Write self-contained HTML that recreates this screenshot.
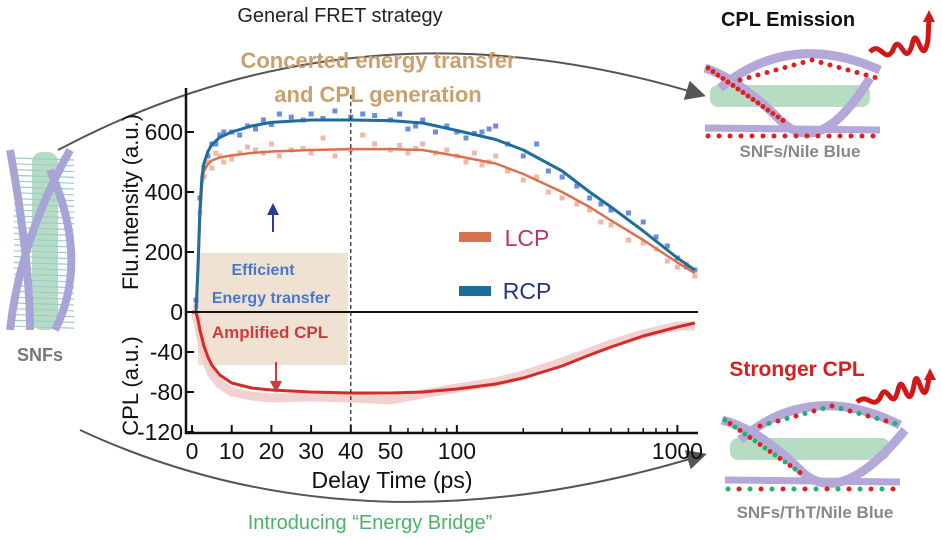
<!DOCTYPE html>
<html><head><meta charset="utf-8"><style>
html,body{margin:0;padding:0;background:#fff;}
body{width:942px;height:540px;overflow:hidden;font-family:"Liberation Sans",sans-serif;}
svg{display:block}
</style></head><body>
<svg id="fig" width="942" height="540" viewBox="0 0 942 540">
<defs>
<marker id="ah" markerWidth="10" markerHeight="10" refX="8" refY="5" orient="auto"><path d="M0,0 L10,5 L0,10 z" fill="#555"/></marker>
<marker id="ahb" markerWidth="6" markerHeight="6" refX="3" refY="3" orient="auto"><path d="M0,0 L6,3 L0,6 z" fill="#2b3d8f"/></marker>
<marker id="ahr" markerWidth="6" markerHeight="6" refX="3" refY="3" orient="auto"><path d="M0,0 L6,3 L0,6 z" fill="#d03a3a"/></marker>
</defs>
<path d="M58,150 Q360,-10 702,95" fill="none" stroke="#555" stroke-width="2" marker-end="url(#ah)"/>
<path d="M80,430 Q360,560 703,455" fill="none" stroke="#555" stroke-width="2" marker-end="url(#ah)"/>
<text x="340" y="22" font-size="20" text-anchor="middle" fill="#222">General FRET strategy</text>
<text x="378" y="68" font-size="22" font-weight="bold" text-anchor="middle" fill="#c9a06f">Concerted energy transfer</text>
<text x="378" y="102" font-size="22" font-weight="bold" text-anchor="middle" fill="#c9a06f">and CPL generation</text>
<text x="370" y="529" font-size="20" text-anchor="middle" fill="#4cb26a">Introducing “Energy Bridge”</text>

<g>
<rect x="32" y="152" width="26" height="178" rx="10" fill="#b7dcc4"/>
<g id="rungsL" stroke="#9cc" stroke-width="1.2"></g>
<path d="M10,150 Q30,260 30,330" stroke="#a9a4d6" stroke-width="8" fill="none"/>
<path d="M70,150 Q20,240 10,330" stroke="#a9a4d6" stroke-width="8" fill="none"/>
<path d="M50,170 Q90,260 55,330" stroke="#a9a4d6" stroke-width="8" fill="none"/>
<text x="40" y="361" font-size="18" font-weight="bold" fill="#777" text-anchor="middle">SNFs</text>
</g>

<g>
<text x="788" y="26" font-size="20" font-weight="bold" fill="#111" text-anchor="middle">CPL Emission</text>
<path d="M870,52 C880,40 885,65 893,50 C900,30 905,70 912,45 C917,20 922,72 928,40 L929,18" stroke="#d01818" stroke-width="5" fill="none"/>
<path d="M923,22 L929,10 L935,22z" fill="#d01818"/>
<rect x="710" y="85" width="160" height="22" rx="8" fill="#b7dcc4"/>
<path d="M705,68 Q740,80 780,120 T870,78" stroke="#b4a8d8" stroke-width="9" fill="none"/>
<path d="M720,88 Q790,30 880,70" stroke="#b4a8d8" stroke-width="9" fill="none"/>
<path d="M705,128 L880,130" stroke="#b4a8d8" stroke-width="7" fill="none"/>
<g id="dotsTop" fill="#e02020"></g>
<text x="800" y="157" font-size="17" font-weight="bold" fill="#888" text-anchor="middle">SNFs/Nile Blue</text>
</g>

<g>
<text x="797" y="376" font-size="21" font-weight="bold" fill="#d42020" text-anchor="middle">Stronger CPL</text>
<path d="M857,402 C868,392 872,410 880,398 C887,378 892,415 898,390 C903,368 908,418 914,385 C918,360 923,418 929,378 L930,378" stroke="#d01818" stroke-width="5" fill="none"/>
<path d="M924,380 L930,368 L936,380z" fill="#d01818"/>
<rect x="730" y="438" width="160" height="22" rx="8" fill="#b7dcc4"/>
<path d="M722,420 Q760,430 800,470 T905,430" stroke="#b4a8d8" stroke-width="9" fill="none"/>
<path d="M740,440 Q810,380 900,425" stroke="#b4a8d8" stroke-width="9" fill="none"/>
<path d="M725,480 L900,482" stroke="#b4a8d8" stroke-width="7" fill="none"/>
<g id="dotsBot"></g>
<text x="815" y="518" font-size="17" font-weight="bold" fill="#888" text-anchor="middle">SNFs/ThT/Nile Blue</text>
</g>

<g id="chart"></g>
</svg>
<script>
var xTickValues=[0,10,20,30,40,50,100,1000];
var xMinorValues=[60,70,80,90,200,300,400,500,600,700,800,900];
var yTopTicks=[0,200,400,600];
var yBotTicks=[-40,-80,-120];
var fitTimes=[0,1,1.5,2,2.5,3,4,5,7,10,15,20,30,40,50,70,100,150,200,300,400,500,700,1000,1200];
var rcpFit=[0,0,150,340,450,495,535,558,582,600,620,632,640,640,638,630,605,575,540,470,400,350,270,180,140];
var lcpFit=[0,0,130,300,420,470,492,505,515,522,530,535,540,543,543,540,520,495,460,400,350,305,240,165,130];
var cplFit=[0,0,-8,-18,-26,-34,-45,-53,-63,-71,-76,-78,-80,-81,-81,-80,-77,-72,-66,-54,-43,-35,-24,-15,-11];
var cplRaw=[-5,-4,-10,-20,-30,-40,-52,-62,-72,-80,-84,-86,-85,-86,-88,-82,-76,-70,-63,-50,-40,-32,-22,-14,-14];
var scatT=[1,2,3,4,5,6,7,8,10,12,14,16,18,20,22,25,28,30,33,36,40,43,46,50,55,60,65,70,80,90,100,110,120,130,140,150,170,200,230,260,300,350,400,450,500,600,700,800,900,1000,1100,1200];
var rcpPts=[40,380,480,520,560,560,590,600,600,590,620,610,640,625,660,650,640,660,645,670,650,660,655,640,660,610,620,640,600,620,600,580,595,600,610,620,560,520,560,470,450,420,380,360,340,330,300,250,220,180,150,140];
var lcpPts=[20,330,450,500,480,530,520,500,510,530,550,540,530,560,520,540,545,530,580,520,540,590,560,540,555,530,545,560,530,540,520,500,530,490,500,520,470,440,450,400,380,360,340,300,290,240,230,210,170,150,160,120];

var chart=document.getElementById('chart');
var NS='http://www.w3.org/2000/svg';
function mk(tag,attrs,parent){var e=document.createElementNS(NS,tag);for(var k in attrs)e.setAttribute(k,attrs[k]);(parent||chart).appendChild(e);return e;}
function xs(t){ if(t<=50) return 192+t*3.97; return 390.5+Math.log10(t/50)*220.5; }
function yTop(v){return 312-v*0.3;}
function yBot(v){return 312-v*1.0;}

var box=mk('rect',{x:198,y:253,width:150,height:112,fill:'#efe2d2'});


var d='';cplRaw.forEach(function(v,i){d+=(i?'L':'M')+xs(fitTimes[i])+','+yBot(v);});
var band=mk('path',{d:d,fill:'none',stroke:'#f2c9c9',"stroke-width":9,"stroke-linejoin":'round',opacity:0.85});


scatT.forEach(function(t,i){
  var p=mk('rect',{x:xs(t)-2.5,y:yTop(lcpPts[i])-2.5,width:5,height:5,fill:'#f1b8a6'});
  
  
});
scatT.forEach(function(t,i){
  var p=mk('rect',{x:xs(t)-2.5,y:yTop(rcpPts[i])-2.5,width:5,height:5,fill:'#6b8ee0'});
  
  
});
function line(arr,fn,col,w,name){
  var dd='';arr.forEach(function(v,i){dd+=(i?'L':'M')+xs(fitTimes[i]).toFixed(1)+','+fn(v).toFixed(1);});
  var p=mk('path',{d:dd,fill:'none',stroke:col,"stroke-width":w,"stroke-linejoin":'round'});
  
  
}
line(lcpFit,yTop,'#d9714e',2.5,'lcp-fit-line');
line(rcpFit,yTop,'#1d6e9b',3,'rcp-fit-line');
line(cplFit,yBot,'#d42a2a',3,'cpl-fit-line');

var z=mk('line',{x1:186,x2:698,y1:312,y2:312,stroke:'#111','stroke-width':2});


var dl=mk('line',{x1:xs(40),x2:xs(40),y1:95,y2:433,stroke:'#222','stroke-width':1.2,'stroke-dasharray':'4,3'});


var ya=mk('line',{x1:186,x2:186,y1:88,y2:434,stroke:'#111','stroke-width':2.5});


var xa=mk('line',{x1:185,x2:698,y1:433,y2:433,stroke:'#111','stroke-width':2.5});


xTickValues.forEach(function(t){
  var x=xs(t);
  var tk=mk('line',{x1:x,x2:x,y1:433,y2:425,stroke:'#111','stroke-width':2});
  
  
  var lb=mk('text',{x:x,y:459,'font-size':23,'text-anchor':'middle',fill:'#111'});
  lb.textContent=t;
  
  
});
xMinorValues.forEach(function(t){
  var tk=mk('line',{x1:xs(t),x2:xs(t),y1:433,y2:428,stroke:'#111','stroke-width':1.5});
  
  
});
yTopTicks.forEach(function(v){
  var y=yTop(v);
  var tk=mk('line',{x1:186,x2:194,y1:y,y2:y,stroke:'#111','stroke-width':2});
  
  
  var lb=mk('text',{x:183,y:y+8,'font-size':23,'text-anchor':'end',fill:'#111'});
  lb.textContent=v;
  
  
});
yBotTicks.forEach(function(v){
  var y=yBot(v);
  var tk=mk('line',{x1:186,x2:194,y1:y,y2:y,stroke:'#111','stroke-width':2});
  
  
  var lb=mk('text',{x:183,y:y+8,'font-size':23,'text-anchor':'end',fill:'#111'});
  lb.textContent=v;
  
  
});
var xt=mk('text',{x:392,y:488,'font-size':23,'text-anchor':'middle',fill:'#111'});
xt.textContent='Delay Time (ps)';


var yt1=mk('text',{x:0,y:0,'font-size':22,'text-anchor':'middle',fill:'#111',transform:'translate(138,202) rotate(-90)'});
yt1.textContent='Flu.Intensity (a.u.)';


var yt2=mk('text',{x:0,y:0,'font-size':22,'text-anchor':'middle',fill:'#111',transform:'translate(138,386) rotate(-90)'});
yt2.textContent='CPL (a.u.)';



function txt(s,x,y,size,col,name,bold){var t=mk('text',{x:x,y:y,'font-size':size,'text-anchor':'middle',fill:col,'font-weight':bold?'bold':'normal'});t.textContent=s;return t;}
txt('Efficient',263,275,16,'#4a78d0','efficient-label',true);
txt('Energy transfer',271,303,16,'#4a78d0','energy-transfer-label',true);
txt('Amplified CPL',270,338,17,'#d03a3a','amplified-cpl-label',true);
var ab=mk('line',{x1:273,y1:232,x2:273,y2:209,stroke:'#2b3d8f','stroke-width':2,'marker-end':'url(#ahb)'});


var ar=mk('line',{x1:276,y1:362,x2:276,y2:387,stroke:'#d03a3a','stroke-width':2,'marker-end':'url(#ahr)'});


var l1=mk('rect',{x:459,y:232,width:32,height:10,fill:'#d9714e'});


txt('LCP',527,246,23,'#c0306a','legend-lcp-label',false);
var l2=mk('rect',{x:459,y:286,width:32,height:10,fill:'#1d6e9b'});


txt('RCP',527,299,23,'#27367a','legend-rcp-label',false);

var rL=document.getElementById('rungsL');
for(var i=0;i<30;i++){var y=158+i*5.8;mk('line',{x1:14,x2:74,y1:y,y2:y+2},rL);}
var dt=document.getElementById('dotsTop');
for(var i=0;i<16;i++){mk('circle',{cx:708+i*11,cy:136,r:2.5},dt);mk('circle',{cx:740+i*9,cy:60+Math.abs(i-8)*2.5,r:2.5},dt);mk('circle',{cx:708+i*5,cy:68+i*3.5,r:2.5},dt);}
var db=document.getElementById('dotsBot');
for(var i=0;i<16;i++){var c=i%2?'#e02020':'#20b070';mk('circle',{cx:728+i*11,cy:489,r:2.5,fill:c},db);mk('circle',{cx:760+i*9,cy:406+Math.abs(i-8)*2.5,r:2.5,fill:i%2?'#20b070':'#e02020'},db);mk('circle',{cx:725+i*5,cy:420+i*3.5,r:2.5,fill:c},db);}
</script>
</body></html>
